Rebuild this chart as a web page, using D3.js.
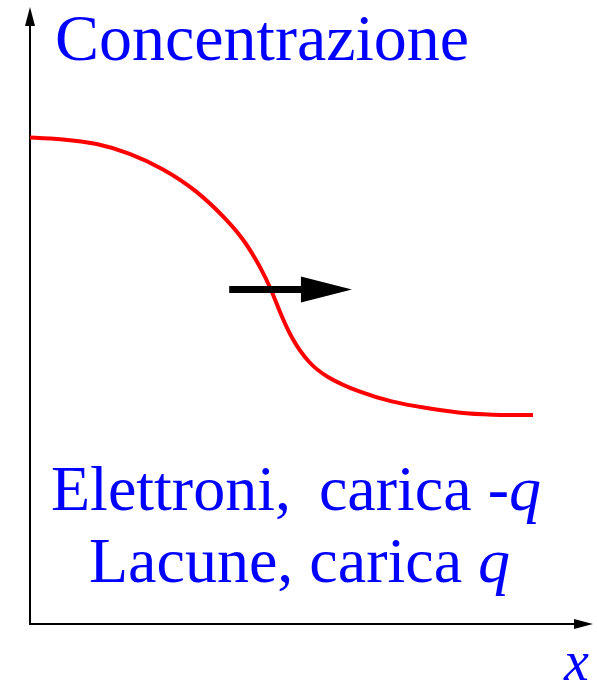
<!DOCTYPE html>
<html>
<head>
<meta charset="utf-8">
<script src="https://cdn.jsdelivr.net/npm/d3@7"></script>
<style>
  body { margin: 0; background: #fff; }
</style>
</head>
<body>
<div id="chart"></div>
<script>
var svgWidth = 597;
var svgHeight = 685;

// concentration profile (arbitrary units, 0-100)
var posX = [0, 6.5, 13.3, 19.8, 26.3, 33.1, 39.6, 43, 46.1, 47.9, 49.5, 52.1, 55.4, 58.8, 65.3, 71.9, 78.6, 85.1, 91.7, 100];
var conc = [97.3, 97, 96.2, 94.2, 91.2, 86.8, 80.4, 76.2, 70.8, 67, 62.8, 56.8, 52.2, 49.4, 46.4, 44.4, 43.2, 42.2, 41.8, 41.8];

// diffusion direction arrow
var arrowX = [39.6, 64];
var arrowY = 66.9;

var yLabel = "Concentrazione";
var xLabel = "x";
var noteLines = [
    [{t: "Elettroni,"}, {t: " carica -", dx: 12}, {t: "q", it: true}],
    [{t: "Lacune, carica "}, {t: "q", it: true}]
];

var serif = '"Liberation Serif"';
var origin = {x: 30, y: 624};

var svg = d3.select("#chart")
    .append("svg")
    .attr("width", svgWidth)
    .attr("height", svgHeight);

var xScale = d3.scaleLinear()
    .domain([0, 100])
    .range([origin.x, 533]);

var yScale = d3.scaleLinear()
    .domain([0, 100])
    .range([origin.y, origin.y - 500]);

// axes with arrow heads
var axes = svg.append("g");

axes.append("line")
    .attr("x1", origin.x).attr("y1", origin.y + 1)
    .attr("x2", origin.x).attr("y2", 24)
    .attr("stroke", "black")
    .attr("stroke-width", 2);

axes.append("path")
    .attr("d", `M${origin.x},7 L${origin.x - 5},26 L${origin.x + 5},26 Z`)
    .attr("fill", "black");

axes.append("line")
    .attr("x1", origin.x - 1).attr("y1", origin.y)
    .attr("x2", 576).attr("y2", origin.y)
    .attr("stroke", "black")
    .attr("stroke-width", 2);

axes.append("path")
    .attr("d", `M593,${origin.y} L574,${origin.y - 5} L574,${origin.y + 5} Z`)
    .attr("fill", "black");

// profile
var lineGen = d3.line()
    .x(d => xScale(d[0]))
    .y(d => yScale(d[1]))
    .curve(d3.curveBasis);

svg.append("path")
    .datum(d3.zip(posX, conc))
    .attr("d", lineGen)
    .attr("fill", "none")
    .attr("stroke", "#ff0000")
    .attr("stroke-width", 4);

// arrow
var ax0 = xScale(arrowX[0]);
var ax1 = xScale(arrowX[1]);
var ay = yScale(arrowY);

svg.append("line")
    .attr("x1", ax0).attr("y1", ay)
    .attr("x2", ax1 - 50).attr("y2", ay)
    .attr("stroke", "black")
    .attr("stroke-width", 7);

svg.append("path")
    .attr("d", `M${ax1},${ay} L${ax1 - 51},${ay - 13} L${ax1 - 51},${ay + 13} Z`)
    .attr("fill", "black");

// labels
svg.append("text")
    .attr("x", 55)
    .attr("y", 60)
    .style("font-family", serif)
    .style("font-size", "66px")
    .attr("fill", "#0000ff")
    .text(yLabel);

svg.append("text")
    .attr("x", 564)
    .attr("y", 680)
    .style("font-family", serif)
    .style("font-size", "56px")
    .style("font-style", "italic")
    .attr("fill", "#0000ff")
    .text(xLabel);

var noteX = [51, 89];
var noteY = [510, 582];

noteLines.forEach(function(parts, i) {
    var t = svg.append("text")
        .attr("x", noteX[i])
        .attr("y", noteY[i])
        .style("font-family", serif)
        .style("font-size", "64px")
        .attr("fill", "#0000ff");
    parts.forEach(function(p) {
        t.append("tspan")
            .attr("dx", p.dx || null)
            .style("font-style", p.it ? "italic" : "normal")
            .text(p.t);
    });
});
</script>
</body>
</html>
